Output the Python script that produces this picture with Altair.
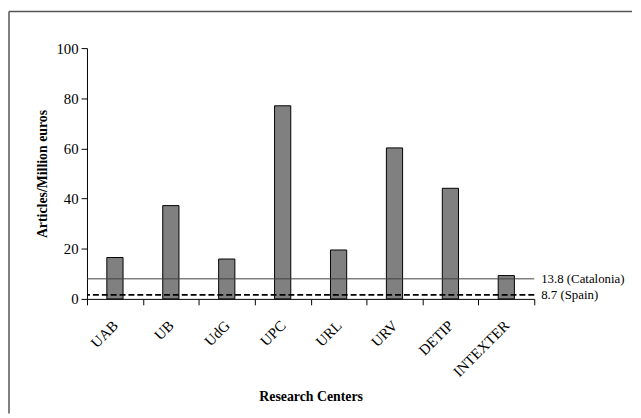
import altair as alt
import pandas as pd

centers = ["UAB", "UB", "UdG", "UPC", "URL", "URV", "DETIP", "INTEXTER"]
values = [16.5, 37.2, 15.9, 77.0, 19.5, 60.2, 44.1, 9.3]

ref_names = ["Catalonia", "Spain"]
ref_levels = [8.0, 1.6]
ref_labels = ["13.8 (Catalonia)", "8.7 (Spain)"]

FONT = "Liberation Serif"
W, H = 453, 254

bars_df = pd.DataFrame({"center": centers, "value": values})
ref_df = pd.DataFrame({"name": ref_names, "level": ref_levels, "label": ref_labels})
one = pd.DataFrame({"f": [0]})

x_enc = alt.X(
    "center:N",
    sort=centers,
    scale=alt.Scale(paddingInner=0, paddingOuter=0),
    axis=alt.Axis(
        title="Research Centers",
        labelAngle=-45,
        labelAlign="right",
        labelBaseline="middle",
        tickBand="extent",
        tickSize=6,
        labelPadding=18,
        titlePadding=10,
    ),
)
y_scale = alt.Scale(domain=[0, 100], nice=False)

bars = alt.Chart(bars_df).mark_bar(
    width=alt.RelativeBandSize(0.29),
    fill="#808080",
    stroke="black",
    strokeWidth=1,
).encode(
    x=x_enc,
    y=alt.Y(
        "value:Q",
        scale=y_scale,
        axis=alt.Axis(
            title="Articles/Million euros",
            values=[0, 20, 40, 60, 80, 100],
            grid=False,
            tickSize=6,
            labelPadding=3,
            titlePadding=6,
        ),
    ),
)

solid = alt.Chart(ref_df).transform_filter(
    alt.datum.name == "Catalonia"
).mark_rule(stroke="#404040", strokeWidth=1).encode(
    y=alt.Y("level:Q", scale=y_scale)
)

dashed = alt.Chart(ref_df).transform_filter(
    alt.datum.name == "Spain"
).mark_rule(stroke="black", strokeWidth=2, strokeDash=[6, 3]).encode(
    y=alt.Y("level:Q", scale=y_scale)
)

labels = alt.Chart(ref_df).mark_text(
    align="left", baseline="middle", font=FONT, fontSize=13, color="black"
).encode(
    x=alt.value(W + 7),
    y=alt.Y("level:Q", scale=y_scale),
    text="label:N",
)

frame_top = alt.Chart(one).mark_rule(stroke="#555555", strokeWidth=1.5).encode(
    x=alt.value(-79), x2=alt.value(552), y=alt.value(-37)
)
frame_left = alt.Chart(one).mark_rule(stroke="#555555", strokeWidth=1.5).encode(
    x=alt.value(-79), y=alt.value(-37), y2=alt.value(370)
)

chart = alt.layer(frame_top, frame_left, bars, solid, dashed, labels).properties(
    width=W, height=H, padding=0
).configure_view(stroke=None).configure_axis(
    labelFont=FONT,
    titleFont=FONT,
    labelFontSize=15,
    titleFontSize=14,
    titleFontWeight="bold",
    labelColor="black",
    titleColor="black",
    domainColor="black",
    tickColor="black",
    domainWidth=1,
    tickWidth=1,
)

chart.save("out.html", embed_options={"renderer": "svg", "actions": False})
